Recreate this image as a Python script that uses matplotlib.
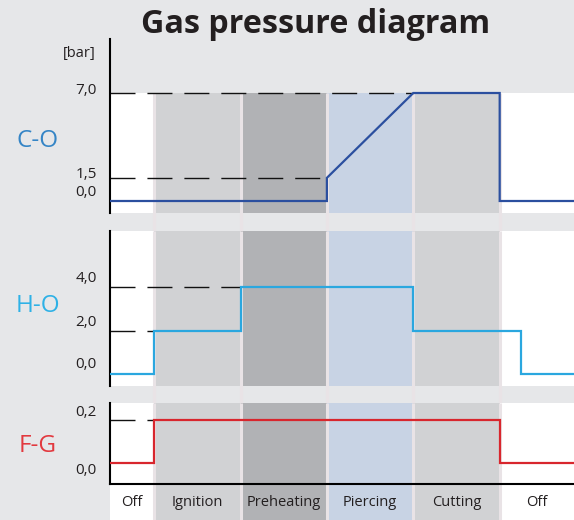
import matplotlib
matplotlib.use("Agg")
import matplotlib.pyplot as plt
from matplotlib.transforms import blended_transform_factory, offset_copy

# ---------------- data ----------------
phases = ["Off", "Ignition", "Preheating", "Piercing", "Cutting", "Off"]
phase_edges = [0.0, 0.51, 1.52, 2.51, 3.51, 4.51, 5.37]

co_x = [0.0, 2.51, 2.51, 3.51, 4.51, 4.51, 5.37]
co_y = [0.0, 0.0, 1.5, 7.0, 7.0, 0.0, 0.0]
ho_x = [0.0, 0.51, 0.51, 1.52, 1.52, 3.51, 3.51, 4.76, 4.76, 5.37]
ho_y = [0.0, 0.0, 2.0, 2.0, 4.0, 4.0, 2.0, 2.0, 0.0, 0.0]
fg_x = [0.0, 0.51, 0.51, 4.51, 4.51, 5.37]
fg_y = [0.0, 0.0, 0.2, 0.2, 0.0, 0.0]

co_ticks = [0.0, 1.5, 7.0]
co_labels = ["0,0", "1,5", "7,0"]
ho_ticks = [0.0, 2.0, 4.0]
ho_labels = ["0,0", "2,0", "4,0"]
fg_ticks = [0.0, 0.2]
fg_labels = ["0,0", "0,2"]

# dashed guides: (level, x_end)
co_guides = [(7.0, 3.51), (1.5, 2.51)]
ho_guides = [(4.0, 1.52), (2.0, 0.51)]
fg_guides = [(0.2, 0.51)]

# ---------------- style ----------------
BG = "#e6e7e9"
SEP = "#e9e3e6"
phase_colors = ["#ffffff", "#d1d2d4", "#b1b2b5", "#c8d3e4", "#d1d2d4", "#ffffff"]
FONT = ["Open Sans", "DejaVu Sans"]
plt.rcParams["font.family"] = FONT

W, H = 574, 520
AX0 = 110
fig = plt.figure(figsize=(W / 100, H / 100), dpi=100, facecolor=BG)

def frame(x0, y0, x1, y1):
    return [x0 / W, 1 - y1 / H, (x1 - x0) / W, (y1 - y0) / H]

XMAX = phase_edges[-1]

# background axes for separators running through gaps
bg = fig.add_axes(frame(AX0, 93, W, H), facecolor="none", zorder=0)
bg.set_xlim(0, XMAX)
bg.set_ylim(0, 1)
bg.axis("off")
for e in phase_edges[1:-1]:
    bg.axvline(e, color=SEP, lw=2.2)

def make_panel(box, ylim, band_top, xs, ys, color, ticks, labels, offs, guides,
               name, name_color, name_y_px, bottom_spine=False):
    ax = fig.add_axes(frame(*box), facecolor="none", zorder=2)
    ax.set_xlim(0, XMAX)
    ax.set_ylim(*ylim)
    top = band_top if band_top is not None else ylim[1]
    for i in range(len(phases)):
        ax.fill_between([phase_edges[i], phase_edges[i + 1]], ylim[0], top,
                        color=phase_colors[i], lw=0, zorder=0)
    for e in phase_edges[1:-1]:
        ax.plot([e, e], [ylim[0], top], color=SEP, lw=2.2, zorder=0.5,
                solid_capstyle="butt")
    for lvl, xe in guides:
        ax.plot([0, xe], [lvl, lvl], color="#111111", lw=1.0,
                dashes=(18, 8.6), zorder=1)
    ax.plot(xs, ys, color=color, lw=1.6, zorder=3, solid_joinstyle="miter")
    for s in ["top", "right"]:
        ax.spines[s].set_visible(False)
    ax.spines["bottom"].set_visible(bottom_spine)
    ax.spines["left"].set_linewidth(1.5)
    ax.spines["bottom"].set_linewidth(1.5)
    ax.set_xticks([])
    ax.set_yticks([])
    tr = blended_transform_factory(ax.transAxes, ax.transData)
    for t, lab, dy in zip(ticks, labels, offs):
        ax.text(0, t, lab, transform=offset_copy(tr, fig=fig, x=-13, y=dy, units="dots"),
                ha="right", va="center", fontsize=11, color="#231f20")
    fig.text(38 / W, 1 - name_y_px / H, name, ha="center", va="center",
             fontsize=17.5, color=name_color)
    return ax

# top: C-O  (y 39..213, 0 at 201, 7 at 93)
pxu = (201 - 93) / 7.0
co_lim = (-(213 - 201) / pxu, (201 - 39) / pxu)
make_panel((AX0, 39, W, 213), co_lim, 7.0, co_x, co_y, "#2b4f9f",
           co_ticks, co_labels, [9, 3, 3], co_guides, "C-O", "#3585c6", 141)

# middle: H-O (y 231..386, 0 at 374, 4 at 287)
pxu = (374 - 287) / 4.0
ho_lim = (-(386 - 374) / pxu, (374 - 231) / pxu)
make_panel((AX0, 231, W, 386), ho_lim, None, ho_x, ho_y, "#2aa7df",
           ho_ticks, ho_labels, [9, 8, 8], ho_guides, "H-O", "#2eb1e6", 306)

# bottom: F-G (y 403..484, 0 at 463, 0.2 at 420)
pxu = (463 - 420) / 0.2
fg_lim = (-(484 - 463) / pxu, (463 - 403) / pxu)
make_panel((AX0, 403, W, 484), fg_lim, None, fg_x, fg_y, "#d8262d",
           fg_ticks, fg_labels, [-7, 7], fg_guides, "F-G", "#e2393f", 446,
           bottom_spine=True)

# label row
lab = fig.add_axes(frame(AX0, 485, W, H), facecolor="none", zorder=1)
lab.set_xlim(0, XMAX)
lab.set_ylim(0, 1)
lab.axis("off")
for i, p in enumerate(phases):
    lab.fill_between([phase_edges[i], phase_edges[i + 1]], 0, 1,
                     color=phase_colors[i], lw=0, zorder=0)
    xc = (phase_edges[i] + phase_edges[i + 1]) / 2
    lab.text(xc, 0.5, p, ha="center", va="center", fontsize=10.5, color="#231f20")
for e in phase_edges[1:-1]:
    lab.axvline(e, color=SEP, lw=2.2, zorder=0.5)

# [bar] and title
fig.text(96 / W, 1 - 54 / H, "[bar]", ha="right", va="center", fontsize=10.5,
         color="#231f20")
fig.text(316 / W, 1 - 24 / H, "Gas pressure diagram", ha="center", va="center",
         fontsize=23.2, fontweight="bold", color="#231f20")

fig.savefig("out.png", dpi=100, facecolor=BG)
